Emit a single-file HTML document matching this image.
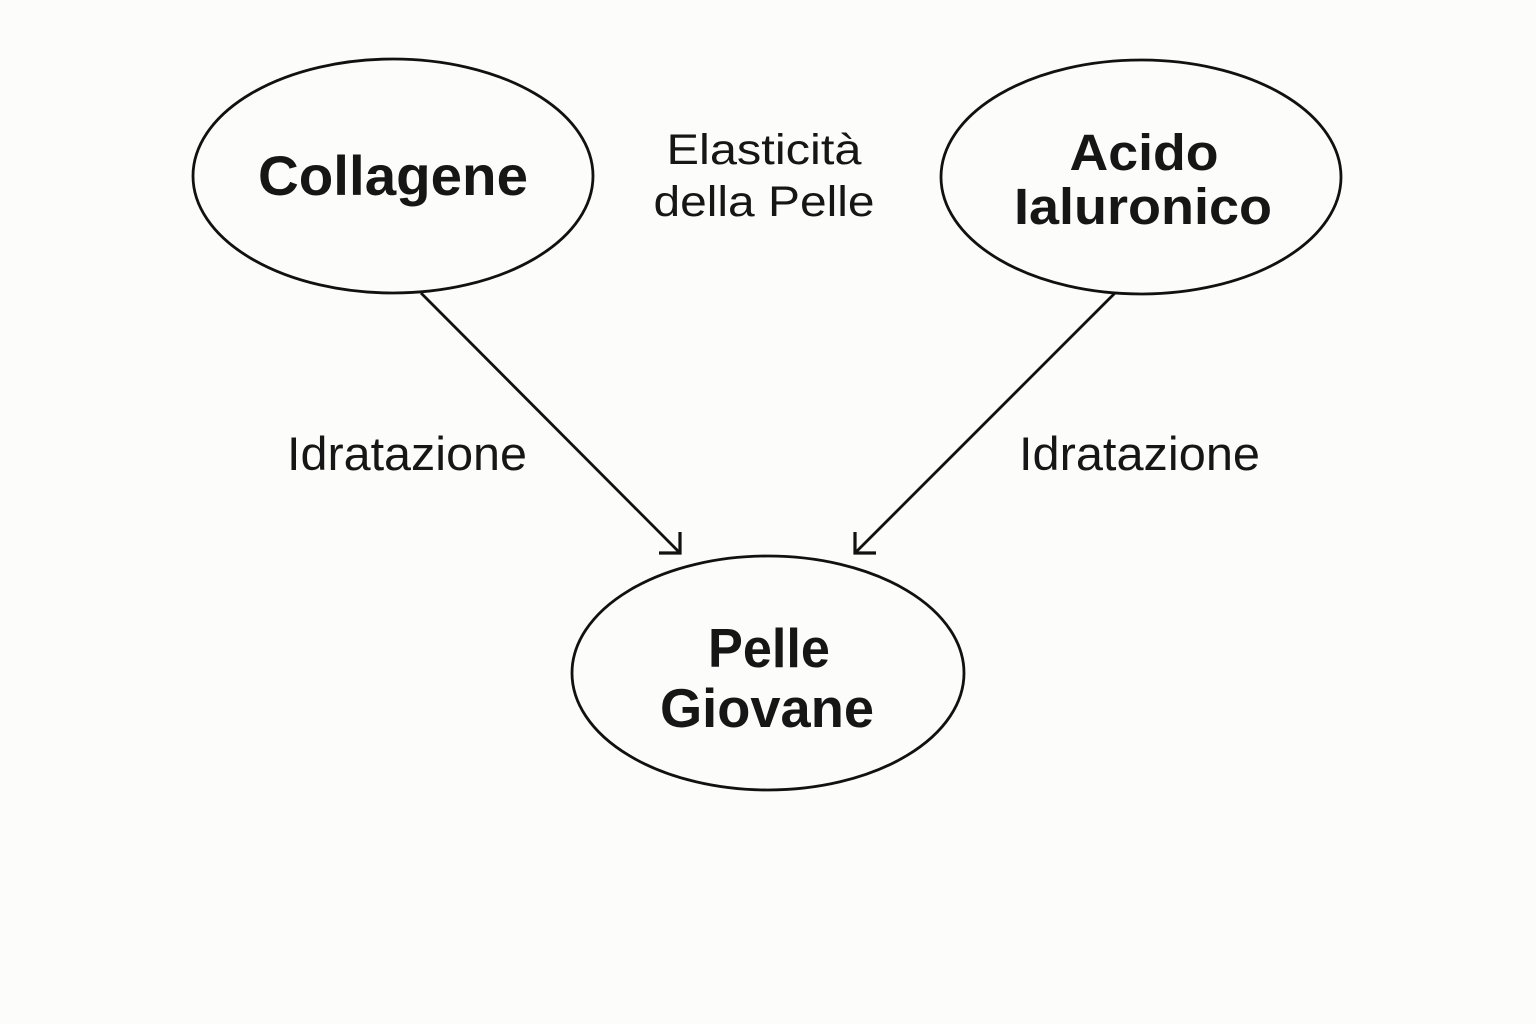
<!DOCTYPE html>
<html>
<head>
<meta charset="utf-8">
<style>
html,body{margin:0;padding:0;background:#fcfcfa;}
svg{display:block;}
</style>
</head>
<body>
<svg width="1536" height="1024" viewBox="0 0 1536 1024" xmlns="http://www.w3.org/2000/svg">
<rect width="1536" height="1024" fill="#fcfcfa"/>
<g fill="none" stroke="#111" stroke-width="2.8">
<ellipse cx="393" cy="176" rx="200" ry="117"/>
<ellipse cx="1141" cy="177" rx="200" ry="117"/>
<ellipse cx="768" cy="673" rx="196" ry="117"/>
<line x1="421" y1="293" x2="680" y2="553"/>
<polyline points="680,532 680,553 659,553" stroke-width="3.2"/>
<line x1="1115" y1="293" x2="855" y2="553"/>
<polyline points="855,532 855,553 876,553" stroke-width="3.2"/>
</g>
<g font-family="Liberation Sans, Arial, sans-serif" fill="#161616">
<text x="393" y="195" font-size="56" font-weight="bold" text-anchor="middle" textLength="270" lengthAdjust="spacingAndGlyphs">Collagene</text>
<text x="1144" y="170" font-size="51" font-weight="bold" text-anchor="middle" textLength="149" lengthAdjust="spacingAndGlyphs">Acido</text>
<text x="1143" y="224" font-size="51" font-weight="bold" text-anchor="middle" textLength="258" lengthAdjust="spacingAndGlyphs">Ialuronico</text>
<text x="769" y="667" font-size="55" font-weight="bold" text-anchor="middle" textLength="122" lengthAdjust="spacingAndGlyphs">Pelle</text>
<text x="767" y="727" font-size="55" font-weight="bold" text-anchor="middle" textLength="214" lengthAdjust="spacingAndGlyphs">Giovane</text>
<text x="764" y="164" font-size="43" text-anchor="middle" textLength="195" lengthAdjust="spacingAndGlyphs">Elasticità</text>
<text x="764" y="216" font-size="43" text-anchor="middle" textLength="221" lengthAdjust="spacingAndGlyphs">della Pelle</text>
<text x="287" y="470" font-size="47" textLength="240" lengthAdjust="spacingAndGlyphs">Idratazione</text>
<text x="1019" y="470" font-size="47" textLength="241" lengthAdjust="spacingAndGlyphs">Idratazione</text>
</g>
</svg>
</body>
</html>
